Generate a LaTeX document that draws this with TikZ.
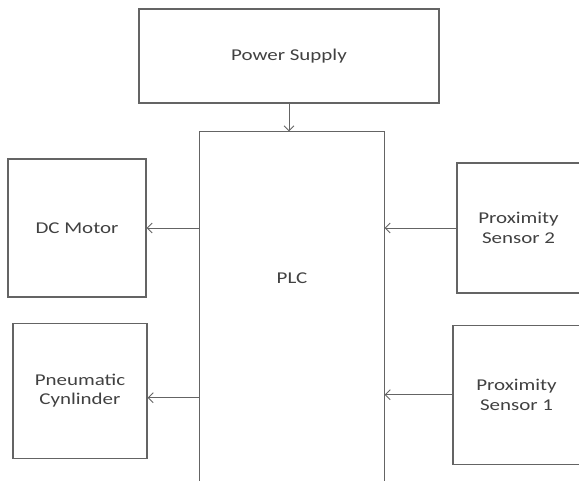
\documentclass[tikz,border=0pt]{standalone}
\usepackage{fontspec}
\setmainfont[FakeStretch=1.27]{Carlito}
\usetikzlibrary{arrows.meta, positioning, calc}
\definecolor{linegray}{RGB}{100,100,100}
\definecolor{textgray}{RGB}{65,65,65}
\tikzstyle{block} = [rectangle, draw=linegray, line width=1.2pt, fill=white, align=center,
                     text=textgray, font=\fontsize{16.5}{19.5}\selectfont, inner sep=0pt]
\tikzstyle{arr}   = [-{Straight Barb[length=5pt, width=10pt]}, draw=linegray, line width=0.9pt]

\begin{document}
\begin{tikzpicture}[x=1pt, y=-1pt]
    \clip (0,0) rectangle (579,481);
    \fill[white] (0,0) rectangle (579,481);

    \node[block, minimum width=300pt, minimum height=94pt] (psu) at (289,56) {Power Supply};
    \node[block, draw=none, fill=none, minimum width=184pt, minimum height=292pt] (plc) at (292,278) {PLC};
    \draw[linegray, line width=1.2pt] (plc.west |- 0,490) -- (plc.north west) -- (plc.north east) -- (plc.east |- 0,490);

    \node[block, minimum width=138pt, minimum height=138pt] (dc) at (77,228) {DC Motor};
    \node[block, minimum width=134pt, minimum height=135pt, below=25pt of dc, xshift=3pt] (pneu) {Pneumatic\\Cynlinder};

    \node[block, minimum width=123pt, minimum height=130pt] (prox2) at (518.5,228) {Proximity\\Sensor 2};
    \node[block, minimum width=127pt, minimum height=139pt, below=31pt of prox2, xshift=-2pt] (prox1) {Proximity\\Sensor 1};

    \draw[arr] (psu.south) -- (psu.south |- plc.north);
    \draw[arr] (plc.west |- dc) -- (dc);
    \draw[arr] ([yshift=-7pt]plc.west |- pneu) -- ([yshift=-7pt]pneu.east);
    \draw[arr] (prox2) -- (prox2 -| plc.east);
    \draw[arr] (prox1) -- (prox1 -| plc.east);
\end{tikzpicture}
\end{document}
